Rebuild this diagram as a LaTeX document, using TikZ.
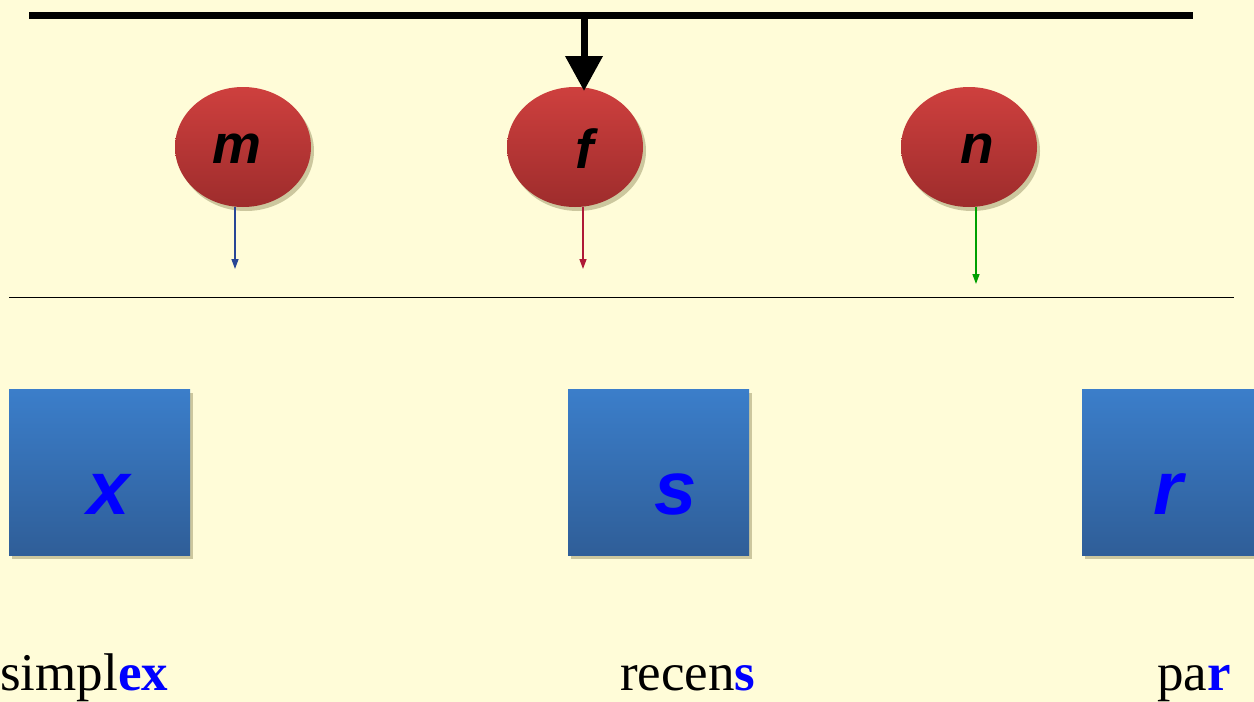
\documentclass[tikz,border=0pt]{standalone}
\usepackage{fontspec}
\setmainfont{Liberation Serif}
\newfontfamily\lsans{Liberation Sans}
\usetikzlibrary{arrows.meta,shadows,shapes.geometric}
\definecolor{bg}{RGB}{255,252,216}
\definecolor{redtop}{RGB}{206,64,62}
\definecolor{redbot}{RGB}{158,44,44}
\definecolor{bluetop}{RGB}{59,126,202}
\definecolor{bluebot}{RGB}{47,94,152}
\definecolor{shad}{RGB}{170,165,120}
\definecolor{arrblue}{RGB}{40,70,150}
\definecolor{arrred}{RGB}{175,25,55}
\definecolor{arrgreen}{RGB}{0,160,0}
\definecolor{txtblue}{RGB}{0,0,255}
\tikzset{
  ball/.style={ellipse, minimum width=136pt, minimum height=120pt, inner sep=0pt,
    top color=redtop, bottom color=redbot, draw=none,
    drop shadow={shadow xshift=3pt, shadow yshift=-4pt, fill=shad, opacity=0.6}},
  tile/.style={rectangle, minimum width=181pt, minimum height=166pt, inner sep=0pt,
    top color=bluetop, bottom color=bluebot, draw=none,
    drop shadow={shadow xshift=3pt, shadow yshift=-4pt, fill=shad, opacity=0.6}},
  balltxt/.style={font=\lsans\bfseries\itshape\fontsize{55}{55}\selectfont, text=black, inner sep=0pt},
  tiletxt/.style={font=\lsans\bfseries\itshape\fontsize{76}{76}\selectfont, text=txtblue, inner sep=0pt},
  word/.style={font=\fontsize{53}{53}\selectfont, inner sep=0pt, anchor=base west},
  thinarrow/.style={line width=1.4pt, -{Triangle[width=7pt,length=10pt]}}
}
\begin{document}
\begin{tikzpicture}[x=1pt,y=-1pt]
\useasboundingbox (0,0) rectangle (1254,702);
\fill[bg] (0,0) rectangle (1254,702);
\begin{scope}
\clip (0,0) rectangle (1254,702);
% top bar
\coordinate (barL) at (29,15);
\coordinate (barR) at (1193,15);
\coordinate (barM) at (584,15);
\draw[line width=7pt] (barL) -- (barR);
% balls
\node[ball] (m) at (243,147) {};
\node[ball] (f) at (575,147) {};
\node[ball] (n) at (969,147) {};
\node[balltxt] (mt) at (237,149) {m};
\node[balltxt] (ft) at (585,149) {f};
\node[balltxt] (nt) at (977,149) {n};
% big arrow
\coordinate (fin) at (584,91);
\draw[line width=7pt, -{Triangle[width=36pt,length=35pt]}] (barM) -- (fin);
% small arrows
\coordinate (ma) at (235,269);
\coordinate (fa) at (583,269);
\coordinate (na) at (976,284);
\draw[thinarrow, arrblue] (235,207) -- (ma);
\draw[thinarrow, arrred] (583,207) -- (fa);
\draw[thinarrow, arrgreen] (976,207) -- (na);
% line
\coordinate (lineL) at (9,297.5);
\coordinate (lineR) at (1234,297.5);
\draw[line width=1.8pt] (lineL) -- (lineR);
% tiles
\node[tile] (bx) at (99.5,472) {};
\node[tile] (bs) at (658.5,472) {};
\node[tile] (br) at (1172.5,472) {};
\node[tiletxt] (xt) at (109,494) {x};
\node[tiletxt] (st) at (676,494) {s};
\node[tiletxt] (rt) at (1168,494) {r};
\end{scope}
% words
\node[word] (w1) at (0,690) {simpl\textcolor{txtblue}{\bfseries ex}};
\node[word] (w2) at (620,690) {recen\textcolor{txtblue}{\bfseries s}};
\node[word] (w3) at (1157,690) {pa\textcolor{txtblue}{\bfseries r}};
\end{tikzpicture}
\end{document}
